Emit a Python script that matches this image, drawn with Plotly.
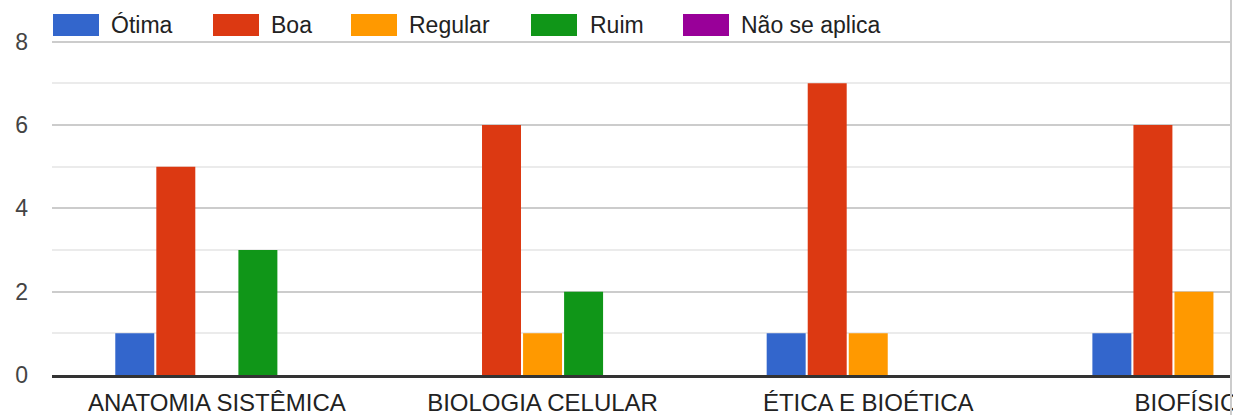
import plotly.graph_objects as go

categories = ["ANATOMIA SISTÊMICA", "BIOLOGIA CELULAR", "ÉTICA E BIOÉTICA", "BIOFÍSICA"]
series_names = ["Ótima", "Boa", "Regular", "Ruim", "Não se aplica"]
otima = [1, 0, 1, 1]
boa = [5, 6, 7, 6]
regular = [0, 1, 1, 2]
ruim = [3, 2, 0, 0]
nao_se_aplica = [0, 0, 0, 0]
y_ticks = [0, 2, 4, 6, 8]

colors = ["#3366cc", "#dc3912", "#ff9900", "#109618", "#990099"]
series_values = [otima, boa, regular, ruim, nao_se_aplica]

W, H = 1233, 415
L, R, T, B = 52, 3, 0, 40
PW = W - L - R
PH = H - T - B
FONT = "Liberation Sans, Arial, sans-serif"

fig = go.Figure()
for name, vals, col in zip(series_names, series_values, colors):
    fig.add_trace(go.Bar(x=list(range(len(categories))), y=vals, name=name,
                         marker=dict(color=col, line=dict(width=0)), showlegend=False))

cat_px = 325.7
xmin = -0.5 - 2.0 / cat_px
xmax = xmin + PW / cat_px

fig.update_layout(
    width=W, height=H,
    margin=dict(l=L, r=R, t=T, b=B),
    paper_bgcolor="white", plot_bgcolor="white",
    barmode="group", bargap=0.37, bargroupgap=0.05,
    font=dict(family=FONT, size=23, color="#222222"),
    xaxis=dict(range=[xmin, xmax], tickmode="array",
               tickvals=list(range(len(categories))), ticktext=categories,
               showgrid=False, showline=True, linecolor="#333333", linewidth=3,
               ticks="", tickfont=dict(size=24, color="#222222"), zeroline=False,
               ticklabeloverflow="allow", ticklabelstandoff=4, automargin=False),
    yaxis=dict(range=[0, 9], tickmode="array", tickvals=y_ticks,
               ticktext=[str(v) for v in y_ticks],
               showgrid=True, gridcolor="#cccccc", gridwidth=2,
               minor=dict(dtick=1, showgrid=True, gridcolor="#ebebeb", gridwidth=2),
               zeroline=False, showline=False, ticks="", automargin=False,
               tickfont=dict(size=23, color="#444444"), ticklabelstandoff=23),
)

def px_x(p):
    return (p - L) / PW

def px_y(p):
    return (H - B - p) / PH

# Custom legend (swatches + labels)
swatch_x = [53, 213, 351, 531, 683]
text_x = [109, 269, 407, 588, 739]
for sx, tx, name, col in zip(swatch_x, text_x, series_names, colors):
    fig.add_shape(type="rect", xref="paper", yref="paper",
                  x0=px_x(sx), x1=px_x(sx + 46), y0=px_y(36), y1=px_y(14),
                  fillcolor=col, line=dict(width=0), layer="above")
    fig.add_annotation(xref="paper", yref="paper", x=px_x(tx), y=px_y(25),
                       text=name, showarrow=False, xanchor="left", yanchor="middle",
                       font=dict(family=FONT, size=23, color="#222222"))

# right border line
fig.add_shape(type="line", xref="paper", yref="paper",
              x0=px_x(1231), x1=px_x(1231), y0=px_y(H), y1=px_y(0),
              line=dict(color="#cccccc", width=2), layer="above")

fig.write_html("out.html", config={"displayModeBar": False},
               post_script="document.body.style.margin='0';document.body.style.overflow='hidden';")
